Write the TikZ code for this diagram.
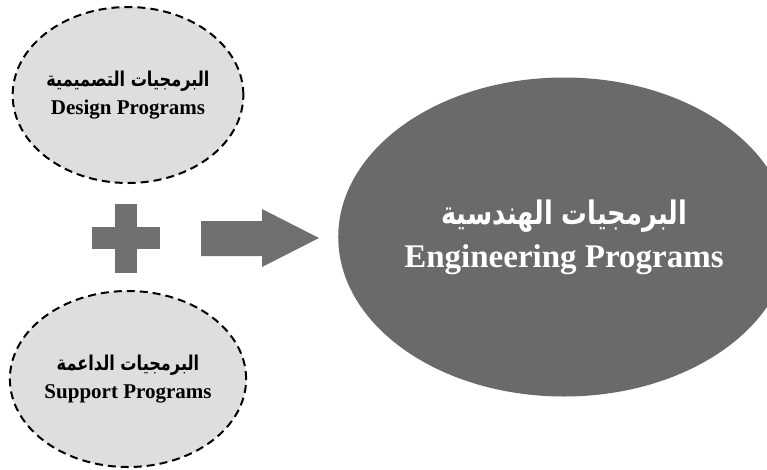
\documentclass[tikz,border=0pt]{standalone}
\usepackage{fontspec}
\setmainfont{Liberation Serif}
\newfontfamily\arabicfont[Script=Arabic]{DejaVu Sans Bold}
\TeXXeTstate=1
\usetikzlibrary{shapes.geometric}

\definecolor{lightfill}{HTML}{DEDEDE}
\definecolor{darkfill}{HTML}{6A6A6A}
\definecolor{signfill}{HTML}{707070}

\begin{document}
\begin{tikzpicture}[x=1pt, y=-1pt,
  prog/.style={ellipse, draw=black, fill=lightfill, line width=2pt, dash pattern=on 8pt off 5pt, inner sep=0pt, minimum width=230pt, minimum height=176pt, align=center, font=\fontsize{21}{28}\selectfont},
  mainprog/.style={ellipse, fill=darkfill, text=white, inner sep=0pt, minimum width=424pt, minimum height=319pt, align=center, font=\fontsize{33}{43}\selectfont},
  arabic/.style={},
  sign/.style={fill=signfill, draw=none}]
  \useasboundingbox (0,0) rectangle (767,469);
  {
  \node[prog] (design) at (128,95) {\scalebox{0.95}[1.2]{\arabicfont\fontsize{17}{20}\selectfont\beginR البرمجيات التصميمية\endR}\\ {\bfseries Design Programs}};
  \node[prog] (support) at (128,379) {\scalebox{0.95}[1.2]{\arabicfont\fontsize{17}{20}\selectfont\beginR البرمجيات الداعمة\endR}\\ {\bfseries Support Programs}};
  \node[mainprog] (engineering) at (564,237) {\scalebox{0.95}[1.2]{\arabicfont\fontsize{27}{30}\selectfont\beginR البرمجيات الهندسية\endR}\\ {\bfseries Engineering Programs}};

  % plus sign
  \fill[sign] (115,204) rectangle (137,273);
  \fill[sign] (92,227) rectangle (160,249);
  % block arrow
  \fill[sign] (201,221) -- (262,221) -- (262,209) -- (319,238) -- (262,267) -- (262,256) -- (201,256) -- cycle;
  }
\end{tikzpicture}
\end{document}
